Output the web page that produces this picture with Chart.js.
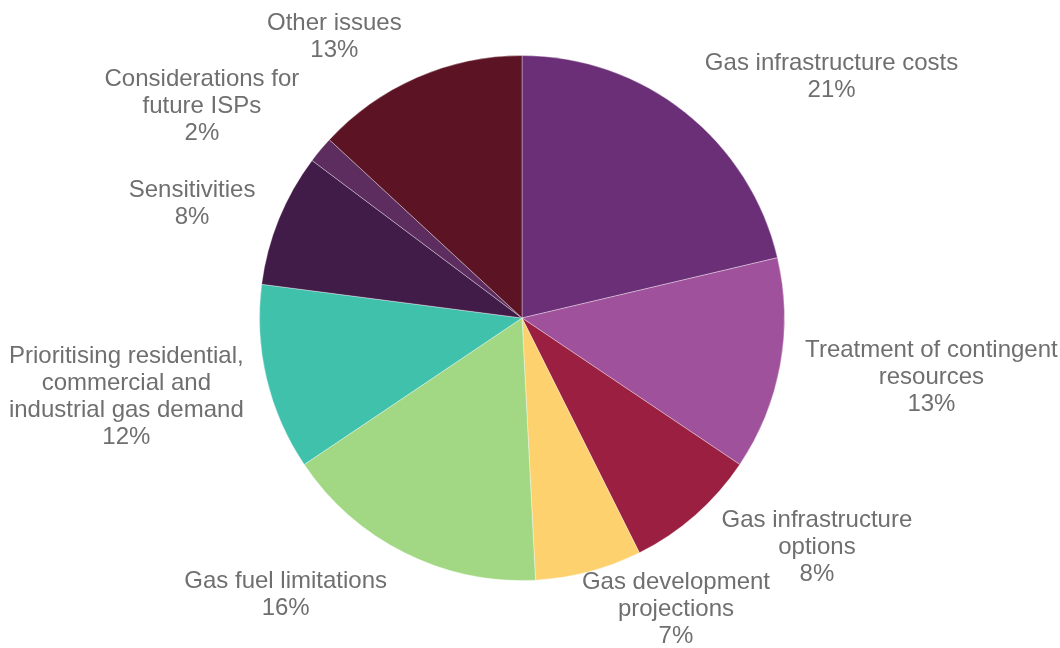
<!DOCTYPE html>
<html>
<head>
<meta charset="utf-8">
<script src="https://cdn.jsdelivr.net/npm/chart.js@4/dist/chart.umd.min.js"></script>
<style>
  html, body { margin: 0; padding: 0; background: #fff; }
  #wrap { width: 1060px; height: 648px; }
</style>
</head>
<body>
<div id="wrap"><canvas id="pie" width="1060" height="648"></canvas></div>
<script>
// categories, each split into the lines shown on the chart
const categories = [
  ['Gas infrastructure costs'],
  ['Treatment of contingent', 'resources'],
  ['Gas infrastructure', 'options'],
  ['Gas development', 'projections'],
  ['Gas fuel limitations'],
  ['Prioritising residential,', 'commercial and', 'industrial gas demand'],
  ['Sensitivities'],
  ['Considerations for', 'future ISPs'],
  ['Other issues']
];
// number of submissions per issue (61 total)
const counts = [13, 8, 5, 4, 10, 7, 5, 1, 8];
const percentLabels = ['21%', '13%', '8%', '7%', '16%', '12%', '8%', '2%', '13%'];
const sliceColors = ['#6b2f78', '#a0519b', '#9b1f40', '#fdd16e', '#a2d884', '#40c1ac', '#421c48', '#5c2d5e', '#5c1425'];

// small hand nudges for the outside labels, like the placement in the original
const labelNudge = [[15, -8], [17, 4], [21, -4], [-9, -9], [-14, 11], [-15, 4], [-16, -2], [-15, -12], [-12, -9]];

const outsideLabels = {
  id: 'outsideLabels',
  afterDatasetsDraw(chart) {
    const ctx = chart.ctx;
    const meta = chart.getDatasetMeta(0);
    const lineH = 27;
    ctx.save();
    ctx.font = '24px "Liberation Sans", Arial, sans-serif';
    ctx.fillStyle = '#6f6f6f';
    ctx.textAlign = 'center';
    ctx.textBaseline = 'middle';
    meta.data.forEach((arc, i) => {
      const p = arc.getProps(['x', 'y', 'startAngle', 'endAngle', 'outerRadius'], true);
      const mid = (p.startAngle + p.endAngle) / 2;
      const r = p.outerRadius + 8;
      const px = p.x + r * Math.cos(mid);
      const py = p.y + r * Math.sin(mid);
      const lines = categories[i].concat([percentLabels[i]]);
      const w = Math.max(...lines.map(l => ctx.measureText(l).width));
      const h = lines.length * lineH;
      const c = Math.cos(mid);
      const cx = px + (Math.abs(c) < 0.05 ? 0 : Math.sign(c)) * w / 2 + labelNudge[i][0];
      const cy = py + Math.sin(mid) * h / 2 + labelNudge[i][1];
      lines.forEach((l, k) => {
        ctx.fillText(l, cx, cy + (k - (lines.length - 1) / 2) * lineH);
      });
    });
    ctx.restore();
  }
};

new Chart(document.getElementById('pie'), {
  type: 'pie',
  data: {
    labels: categories.map(c => c.join(' ')),
    datasets: [{
      data: counts,
      backgroundColor: sliceColors,
      borderColor: 'rgba(255,255,255,0.35)',
      borderWidth: 1
    }]
  },
  options: {
    responsive: false,
    animation: false,
    layout: { padding: { left: 259, right: 275, top: 55, bottom: 67 } },
    plugins: {
      legend: { display: false },
      tooltip: { enabled: false }
    }
  },
  plugins: [outsideLabels]
});
</script>
</body>
</html>
